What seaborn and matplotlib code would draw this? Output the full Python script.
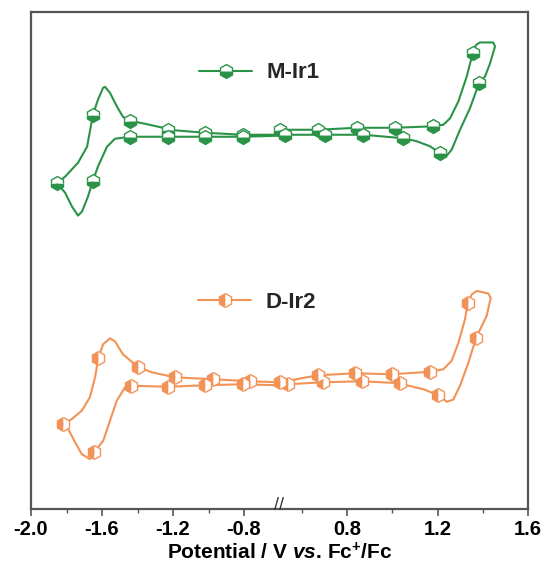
import numpy as np
import pandas as pd
import matplotlib
matplotlib.use("Agg")
import matplotlib.pyplot as plt
from matplotlib.lines import Line2D
import seaborn as sns

# ---------------- data (potential in V vs Fc+/Fc, current in arbitrary units) ----------------
green_v = [-1.855, -1.808, -1.735, -1.684, -1.651, -1.623, -1.594, -1.583, -1.555, -1.515,
           -1.482, -1.442, -1.358, -1.256, -1.228, -1.020, -0.806, -0.610, 0.502, 0.670,
           0.843, 1.011, 1.181, 1.225, 1.255, 1.292, 1.329, 1.355, 1.370, 1.388,
           1.446, 1.454, 1.432, 1.410, 1.383, 1.343, 1.299, 1.262, 1.240, 1.211,
           1.166, 1.107, 1.048, 0.870, 0.701, 0.524, -0.610, -0.806, -1.020, -1.228,
           -1.358, -1.442, -1.527, -1.572, -1.623, -1.651, -1.679, -1.713, -1.735, -1.769,
           -1.808, -1.855]
green_i = [65.3, 66.6, 69.4, 72.6, 79.0, 82.0, 84.4, 84.6, 83.4, 80.6,
           78.6, 77.8, 77.2, 76.4, 76.0, 75.4, 75.0, 75.0, 76.0, 76.0,
           76.4, 76.4, 76.7, 77.0, 78.3, 81.7, 86.7, 91.3, 93.0, 93.5,
           93.5, 92.7, 89.3, 86.7, 85.3, 80.3, 76.0, 72.0, 70.8, 71.3,
           72.7, 73.7, 74.3, 75.0, 75.0, 75.0, 74.8, 74.6, 74.6, 74.6,
           74.6, 74.6, 74.2, 72.6, 68.6, 65.8, 62.6, 59.6, 58.8, 60.6,
           63.4, 65.3]
green_marks = [0, 4, 11, 14, 15, 16, 18, 19, 20, 21, 22, 27, 34, 39, 42, 43, 44, 45,
               47, 48, 49, 51, 55]

orange_v = [-1.818, -1.771, -1.714, -1.668, -1.639, -1.621, -1.594, -1.555, -1.527, -1.482,
            -1.399, -1.320, -1.217, -1.189, -0.975, -0.766, -0.610, 0.502, 0.670, 0.834,
            0.998, 1.166, 1.225, 1.262, 1.292, 1.321, 1.333, 1.351, 1.373, 1.424,
            1.435, 1.417, 1.370, 1.336, 1.299, 1.269, 1.240, 1.203, 1.137, 1.063,
            1.033, 0.865, 0.693, 0.538, -0.610, -0.806, -1.020, -1.226, -1.437, -1.470,
            -1.517, -1.555, -1.593, -1.643, -1.668, -1.714, -1.752, -1.790, -1.818]
orange_i = [17.0, 18.0, 19.7, 22.4, 26.4, 30.2, 33.0, 34.2, 33.6, 31.0,
            28.5, 27.4, 26.6, 26.4, 26.0, 25.6, 25.4, 25.4, 26.8, 27.2,
            27.0, 27.5, 28.0, 29.7, 33.3, 38.0, 41.3, 43.0, 43.7, 43.2,
            42.3, 38.7, 34.3, 29.3, 24.7, 21.9, 21.5, 22.8, 24.0, 24.8,
            25.2, 25.6, 25.4, 25.0, 24.8, 25.0, 24.8, 24.5, 24.7, 24.4,
            21.7, 17.7, 13.7, 11.4, 10.0, 11.0, 13.4, 16.0, 17.0]
orange_marks = [0, 5, 10, 13, 14, 15, 17, 18, 19, 20, 21, 26, 32, 37, 40, 41, 42, 43,
                45, 46, 47, 48, 53]

series_names = ["M-Ir1", "D-Ir2"]
major_ticks = [-2.0, -1.6, -1.2, -0.8, 0.8, 1.2, 1.6]
major_labels = ["-2.0", "-1.6", "-1.2", "-0.8", "0.8", "1.2", "1.6"]
minor_ticks = [-1.8, -1.4, -1.0, 0.6, 1.0, 1.4]
break_lo, break_hi = -0.6, 0.5
x_min, x_max = -2.0, 1.6

GREEN = "#2b9348"
ORANGE = "#f39257"

# ---------------- style ----------------
sns.set_theme(style="white")
plt.rcParams["font.family"] = ["Liberation Sans", "DejaVu Sans"]
plt.rcParams["mathtext.fontset"] = "custom"
plt.rcParams["mathtext.rm"] = "Liberation Sans:bold"
plt.rcParams["mathtext.it"] = "Liberation Sans:bold:italic"
plt.rcParams["mathtext.bf"] = "Liberation Sans:bold"

fig = plt.figure(figsize=(5.47, 5.72), dpi=100)
ax = fig.add_axes([31 / 547, 1 - 509 / 572, (528 - 31) / 547, (509 - 12) / 572])


# broken x axis via a piecewise-linear scale
def fwd(v):
    v = np.asarray(v, dtype=float)
    left = (v - x_min) / (break_lo - x_min) * 0.5
    right = 0.5 + (v - break_hi) / (x_max - break_hi) * 0.5
    return np.where(v <= break_lo, left, np.where(v >= break_hi, right, 0.5))


def inv(u):
    u = np.asarray(u, dtype=float)
    left = x_min + u / 0.5 * (break_lo - x_min)
    right = break_hi + (u - 0.5) / 0.5 * (x_max - break_hi)
    return np.where(u <= 0.5, left, right)


ax.set_xscale("function", functions=(fwd, inv))

df_g = pd.DataFrame({"V": green_v, "I": green_i})
df_o = pd.DataFrame({"V": orange_v, "I": orange_i})

common = dict(estimator=None, sort=False, lw=1.5, marker="h", markersize=10,
              markerfacecoloralt="white", markeredgewidth=1.0, ax=ax, legend=False,
              solid_joinstyle="round")
sns.lineplot(data=df_g, x="V", y="I", color=GREEN, fillstyle="bottom",
             markerfacecolor=GREEN, markeredgecolor=GREEN, markevery=green_marks, **common)
sns.lineplot(data=df_o, x="V", y="I", color=ORANGE, fillstyle="left",
             markerfacecolor=ORANGE, markeredgecolor=ORANGE, markevery=orange_marks, **common)

ax.set_xlim(x_min, x_max)
ax.set_ylim(0, 99.6)
ax.set_yticks([])
ax.set_ylabel("")

ax.set_xticks(major_ticks)
ax.set_xticklabels(major_labels)
ax.set_xticks(minor_ticks, minor=True)
ax.tick_params(axis="x", which="major", direction="out", length=5, width=1.2,
               color="#555555", bottom=True, labelsize=14.5, pad=3)
ax.tick_params(axis="x", which="minor", direction="out", length=3, width=1.0,
               color="#555555", bottom=True)
for lab in ax.get_xticklabels():
    lab.set_fontweight("bold")
    lab.set_color("black")

for sp in ax.spines.values():
    sp.set_visible(True)
    sp.set_color("#555555")
    sp.set_linewidth(1.6)

ax.set_xlabel("Potential / V $\\mathit{vs}$. Fc$^{+}$/Fc", fontsize=15,
              fontweight="bold", color="black", labelpad=2)

# axis-break marker
ax.text(0.5, 0.008, "//", transform=ax.transAxes, ha="center", va="center",
        fontsize=13, color="#333333", clip_on=False)

# legends
h_g = Line2D([], [], color=GREEN, lw=1.5, marker="h", markersize=10, fillstyle="bottom",
             markerfacecolor=GREEN, markerfacecoloralt="white", markeredgecolor=GREEN,
             markeredgewidth=1.0)
h_o = Line2D([], [], color=ORANGE, lw=1.5, marker="h", markersize=10, fillstyle="left",
             markerfacecolor=ORANGE, markerfacecoloralt="white", markeredgecolor=ORANGE,
             markeredgewidth=1.0)
leg_kw = dict(loc="center left", bbox_transform=fig.transFigure, frameon=False,
              handlelength=2.4, handletextpad=0.65, borderpad=0, borderaxespad=0,
              prop={"weight": "bold", "size": 16})
leg1 = ax.legend([h_g], [series_names[0]], bbox_to_anchor=(199 / 547, 1 - 73 / 572), **leg_kw)
ax.add_artist(leg1)
leg2 = ax.legend([h_o], [series_names[1]], bbox_to_anchor=(198 / 547, 1 - 302 / 572), **leg_kw)

fig.savefig("out.png", dpi=100)
